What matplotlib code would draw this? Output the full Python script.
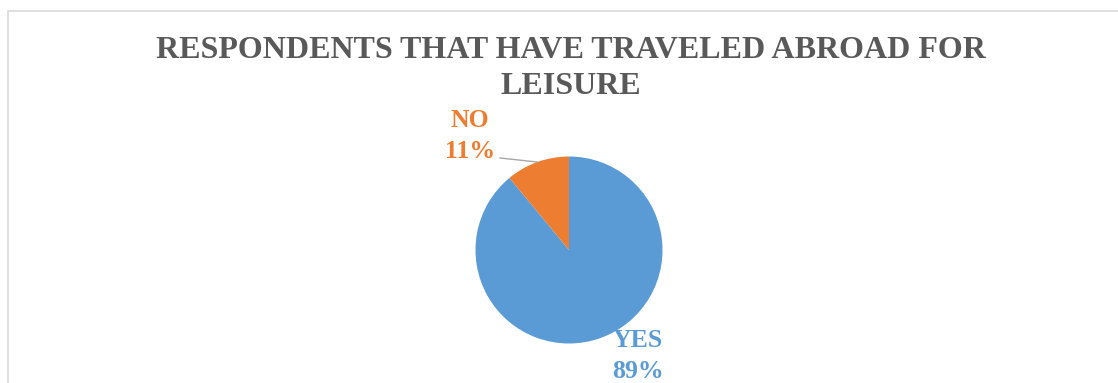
import numpy as np
import matplotlib.pyplot as plt
from matplotlib.patches import Rectangle

# Survey answers
answers = ["YES", "NO"]
shares = [89, 11]
colors = ["#5B9BD5", "#ED7D31"]
title_lines = ["RESPONDENTS THAT HAVE TRAVELED ABROAD FOR", "LEISURE"]

W, H = 1118, 383
fig = plt.figure(figsize=(W / 100, H / 100), dpi=100)
ax = fig.add_axes([0, 0, 1, 1])

# chart frame (runs off the bottom/right of the canvas)
ax.add_patch(Rectangle((8, -20), W + 40, H - 11 + 20, fill=False,
                       edgecolor="#D9D9D9", linewidth=1.2))

cx, cy, r = 569, H - 250, 93.5
wedges, _ = ax.pie(shares, colors=colors, startangle=90, counterclock=False,
                   center=(cx, cy), radius=r, frame=True,
                   wedgeprops=dict(linewidth=0))
ax.set_xlim(0, W)
ax.set_ylim(0, H)
ax.set_aspect("equal")
ax.axis("off")

for i, line in enumerate(title_lines):
    ax.text(571, H - 51 - 36 * i, line, ha="center", va="center",
            fontsize=23, fontweight="bold", family="Liberation Serif",
            color="#595959")

label_pos = {"YES": (638, H - 356), "NO": (470, H - 136)}
for name, val, col in zip(answers, shares, colors):
    x, y = label_pos[name]
    ax.text(x, y, f"{name}\n{val}%", ha="center", va="center", fontsize=18.5,
            fontweight="bold", family="Liberation Serif", color=col,
            linespacing=1.45)

# leader line for the small slice
w = wedges[1]
mid = np.deg2rad((w.theta1 + w.theta2) / 2)
ex, ey = cx + r * np.cos(mid), cy + r * np.sin(mid)
ax.plot([500, ex], [H - 158, ey], color="#A6A6A6", linewidth=1)

fig.savefig("out.png", dpi=100)
